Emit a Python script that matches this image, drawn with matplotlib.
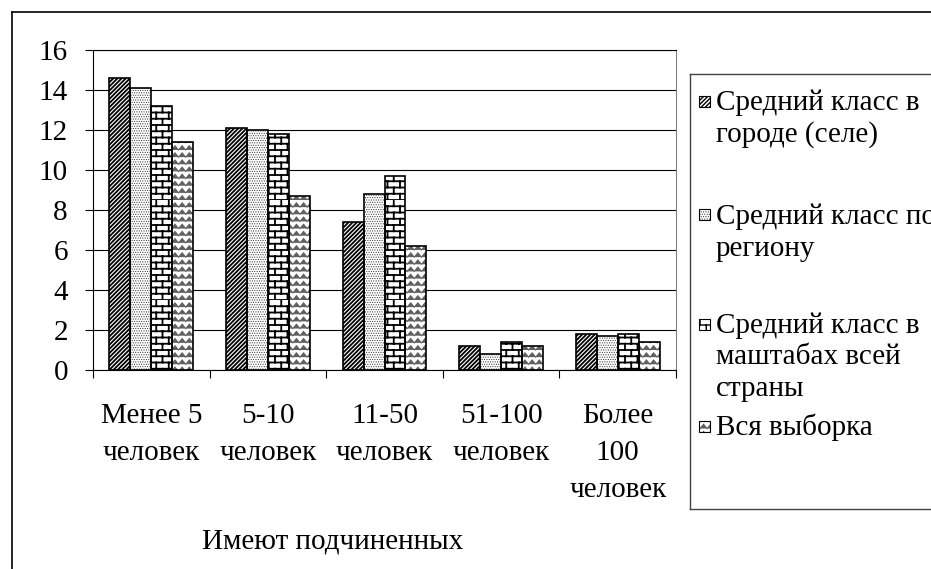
import warnings
import numpy as np
import matplotlib
matplotlib.use('Agg')
import matplotlib.pyplot as plt
import matplotlib.hatch as mhatch
import matplotlib.transforms as mtransforms
from matplotlib.path import Path
from matplotlib.patches import Rectangle
from matplotlib.lines import Line2D

warnings.filterwarnings('ignore')

# ——— data ———
categories = ['Менее 5\nчеловек', '5-10\nчеловек', '11-50\nчеловек',
              '51-100\nчеловек', 'Более\n100\nчеловек']
series_names = ['Средний класс в\nгороде (селе)',
                'Средний класс по\nрегиону',
                'Средний класс в\nмаштабах всей\nстраны',
                'Вся выборка']
city = [14.6, 12.1, 7.4, 1.2, 1.8]
region = [14.1, 12.0, 8.8, 0.8, 1.7]
country = [13.2, 11.8, 9.7, 1.4, 1.8]
total = [11.4, 8.7, 6.2, 1.2, 1.4]
y_ticks = [0, 2, 4, 6, 8, 10, 12, 14, 16]
x_title = 'Имеют подчиненных'


# ——— extra hatch patterns (brick, zigzag) ———
class BrickHatch(mhatch.HatchPatternBase):
    def __init__(self, hatch, density):
        n = hatch.count('b')
        self.rows = 8 * n
        self.cols = 4 * n
        self.num_vertices = 2 * self.rows * (self.cols + 2) if n else 0

    def set_vertices_and_codes(self, vertices, codes):
        segs = []
        for k in range(self.rows):
            y0, y1 = k / self.rows, (k + 1) / self.rows
            segs.append([(0, y0), (1, y0)])
            off = 0.5 / self.cols if k % 2 else 0.0
            for j in range(self.cols + 1):
                x = j / self.cols + off
                segs.append([(x, y0), (x, y1)])
        segs = np.array(segs, dtype=float)
        vertices[0::2] = segs[:, 0]
        vertices[1::2] = segs[:, 1]
        codes[0::2] = Path.MOVETO
        codes[1::2] = Path.LINETO


class ZigzagHatch(mhatch.HatchPatternBase):
    def __init__(self, hatch, density):
        n = hatch.count('z')
        self.rows = 7 * n
        self.steps = 14 * n
        self.num_vertices = self.rows * (self.steps + 1) if n else 0

    def set_vertices_and_codes(self, vertices, codes):
        m = self.steps + 1
        xs = np.arange(m) / self.steps
        amp = np.where(np.arange(m) % 2, 0.6, 0.0)
        for k in range(self.rows):
            i0 = k * m
            vertices[i0:i0 + m, 0] = xs
            vertices[i0:i0 + m, 1] = (k + amp) / self.rows
            codes[i0] = Path.MOVETO
            codes[i0 + 1:i0 + m] = Path.LINETO


mhatch._hatch_types.extend([BrickHatch, ZigzagHatch])

plt.rcParams['font.family'] = ['Liberation Serif', 'DejaVu Serif']
FS = 21

W, H = 931, 569
fig = plt.figure(figsize=(W / 100, H / 100), dpi=100)

def fx(px):
    return px / W

def fy(py):
    return 1 - py / H

# plot area in pixels
L, R, T, B = 93, 676, 50, 370
ax = fig.add_axes([fx(L), fy(B), fx(R - L), (B - T) / H])

series = [city, region, country, total]
styles = [
    dict(hatch='////////', hc='black', hlw=1.3),
    dict(hatch='.......', hc='#3a3a3a', hlw=0.5),
    dict(hatch='bb', hc='black', hlw=1.3),
    dict(hatch='zz', hc='#606060', hlw=0.8),
]
bw = 0.18
idx = np.arange(len(categories))
for i, (vals, st) in enumerate(zip(series, styles)):
    x = idx - 2 * bw + (i + 0.5) * bw
    plt.rcParams['hatch.linewidth'] = st['hlw']
    bars = ax.bar(x, vals, bw, color='white', edgecolor=st['hc'],
                  hatch=st['hatch'], linewidth=0, zorder=2)
    for b in bars:
        if hasattr(b, 'set_hatch_linewidth'):
            b.set_hatch_linewidth(st['hlw'])
    ax.bar(x, vals, bw, fill=False, edgecolor='black', linewidth=1.2, zorder=3)

ax.set_xlim(-0.5, len(categories) - 0.5)
ax.set_ylim(0, 16)
ax.set_yticks(y_ticks)
ax.set_yticklabels([str(v) for v in y_ticks], fontsize=FS)
ax.yaxis.grid(True, color='black', linewidth=0.8)
ax.set_axisbelow(True)
ax.tick_params(axis='y', direction='out', length=6, width=0.8, pad=12)
ax.set_xticks(np.arange(len(categories) + 1) - 0.5)
ax.set_xticklabels([])
ax.tick_params(axis='x', direction='out', length=6, width=0.8)
for s in ['left', 'bottom', 'top']:
    ax.spines[s].set_color('black')
    ax.spines[s].set_linewidth(0.8)
ax.spines['right'].set_color('#808080')
ax.spines['right'].set_linewidth(0.8)

# category labels, one line at a time
trans = mtransforms.blended_transform_factory(ax.transData, fig.transFigure)
line_base = [423, 460, 497]
for i, lab in enumerate(categories):
    for j, line in enumerate(lab.split('\n')):
        fig.text(i, fy(line_base[j]), line, transform=trans, ha='center',
                 va='baseline', fontsize=FS)

fig.text(fx(333), fy(548), x_title, ha='center', va='baseline', fontsize=FS)

# outer chart border (clipped by the figure edge)
fig.add_artist(Line2D([fx(12), fx(12)], [0, fy(12)], color='black', lw=1.2))
fig.add_artist(Line2D([fx(12), 1], [fy(12), fy(12)], color='black', lw=1.2))

# legend box
lg_l, lg_t, lg_b = 690, 74, 509
for xs_, ys_ in [([lg_l, lg_l], [lg_t, lg_b]), ([lg_l, W], [lg_t, lg_t]),
                 ([lg_l, W], [lg_b, lg_b])]:
    fig.add_artist(Line2D([fx(v) for v in xs_], [fy(v) for v in ys_],
                          color='#404040', lw=1.0))

entry_base = [110, 224, 333, 435]
step = 31.5
msz = 11
for name, st, yb in zip(series_names, styles, entry_base):
    cy = yb - 9
    plt.rcParams['hatch.linewidth'] = min(st['hlw'], 1.0)
    fig.add_artist(Rectangle((fx(699), fy(cy + msz / 2)), fx(msz), msz / H,
                             facecolor='white', edgecolor=st['hc'],
                             hatch=st['hatch'], linewidth=0,
                             transform=fig.transFigure))
    fig.add_artist(Rectangle((fx(699), fy(cy + msz / 2)), fx(msz), msz / H,
                             fill=False, edgecolor='black', linewidth=0.8,
                             transform=fig.transFigure))
    for j, line in enumerate(name.split('\n')):
        fig.text(fx(716), fy(yb + j * step), line, ha='left', va='baseline',
                 fontsize=FS)

fig.savefig('out.png', dpi=100)
